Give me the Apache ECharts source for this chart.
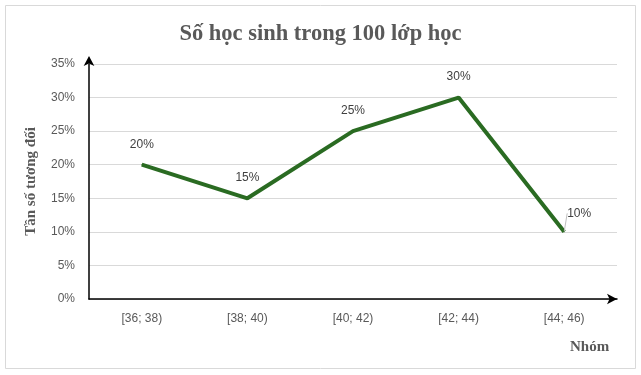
<!DOCTYPE html>
<html>
<head>
<meta charset="utf-8">
<script src="https://cdn.jsdelivr.net/npm/echarts@6/dist/echarts.min.js"></script>
<style>
  html, body { margin: 0; padding: 0; background: #fff; }
  #main { width: 641px; height: 375px; }
</style>
</head>
<body>
<div id="main"></div>
<script>
var categories = ['[36; 38)', '[38; 40)', '[40; 42)', '[42; 44)', '[44; 46)'];
var values = [20, 15, 25, 30, 10];
var yTicks = [0, 5, 10, 15, 20, 25, 30, 35];

var chart = echarts.init(document.getElementById('main'));
var option = {
    backgroundColor: '#fff',
    animation: false,
    graphic: [{
        type: 'rect',
        shape: {x: 5.5, y: 5.5, width: 630, height: 363},
        style: {fill: 'none', stroke: '#d9d9d9', lineWidth: 1},
        silent: true
    }, {
        // x axis name, sits under the last tick label like in the original
        type: 'text',
        left: 570,
        top: 340,
        style: {
            text: 'Nhóm',
            fill: '#595959',
            font: 'bold 15px "Liberation Serif"'
        },
        silent: true
    }],
    title: {
        text: 'Số học sinh trong 100 lớp học',
        left: 'center',
        top: 18,
        textStyle: {
            fontFamily: 'Liberation Serif',
            fontWeight: 'bold',
            fontSize: 22.5,
            color: '#595959'
        }
    },
    grid: {left: 89, right: 24, top: 64, bottom: 76},
    xAxis: {
        type: 'category',
        data: categories,
        boundaryGap: true,
        axisLine: {
            lineStyle: {color: '#000', width: 1.5},
            symbol: ['none', 'arrow'],
            symbolSize: [8, 10]
        },
        axisTick: {show: false},
        axisLabel: {
            color: '#595959',
            fontFamily: 'Liberation Sans',
            fontSize: 12,
            margin: 14
        }
    },
    yAxis: {
        type: 'value',
        min: yTicks[0],
        max: yTicks[yTicks.length - 1],
        interval: 5,
        name: 'Tần số tương đối',
        nameLocation: 'middle',
        nameGap: 50,
        nameRotate: 90,
        nameTextStyle: {
            fontFamily: 'Liberation Serif',
            fontWeight: 'bold',
            fontSize: 15,
            color: '#595959'
        },
        axisLine: {
            show: true,
            lineStyle: {color: '#000', width: 1.5},
            symbol: ['none', 'arrow'],
            symbolSize: [8, 10],
            symbolOffset: [0, 8]
        },
        axisTick: {show: false},
        axisLabel: {
            color: '#595959',
            fontFamily: 'Liberation Sans',
            fontSize: 12,
            margin: 14,
            formatter: '{value}%'
        },
        splitLine: {lineStyle: {color: '#d9d9d9', width: 1}}
    },
    series: [{
        type: 'line',
        // only the last label is pulled aside with a leader line
        data: values.map(function (v, i) {
            if (i === values.length - 1) {
                return {value: v, labelLine: {show: true}};
            }
            return {value: v};
        }),
        symbol: 'circle',
        symbolSize: 1,
        showSymbol: true,
        itemStyle: {color: '#2a6b22'},
        lineStyle: {color: '#2a6b22', width: 4},
        label: {
            show: true,
            position: 'top',
            distance: 14,
            color: '#404040',
            fontFamily: 'Liberation Sans',
            fontSize: 12,
            formatter: '{c}%'
        },
        labelLine: {show: false, lineStyle: {color: '#bfbfbf', width: 1}},
        labelLayout: function (p) {
            if (p.dataIndex === values.length - 1) {
                return {dx: 15, dy: 2};
            }
            return {};
        }
    }]
};
chart.setOption(option);
</script>
</body>
</html>
